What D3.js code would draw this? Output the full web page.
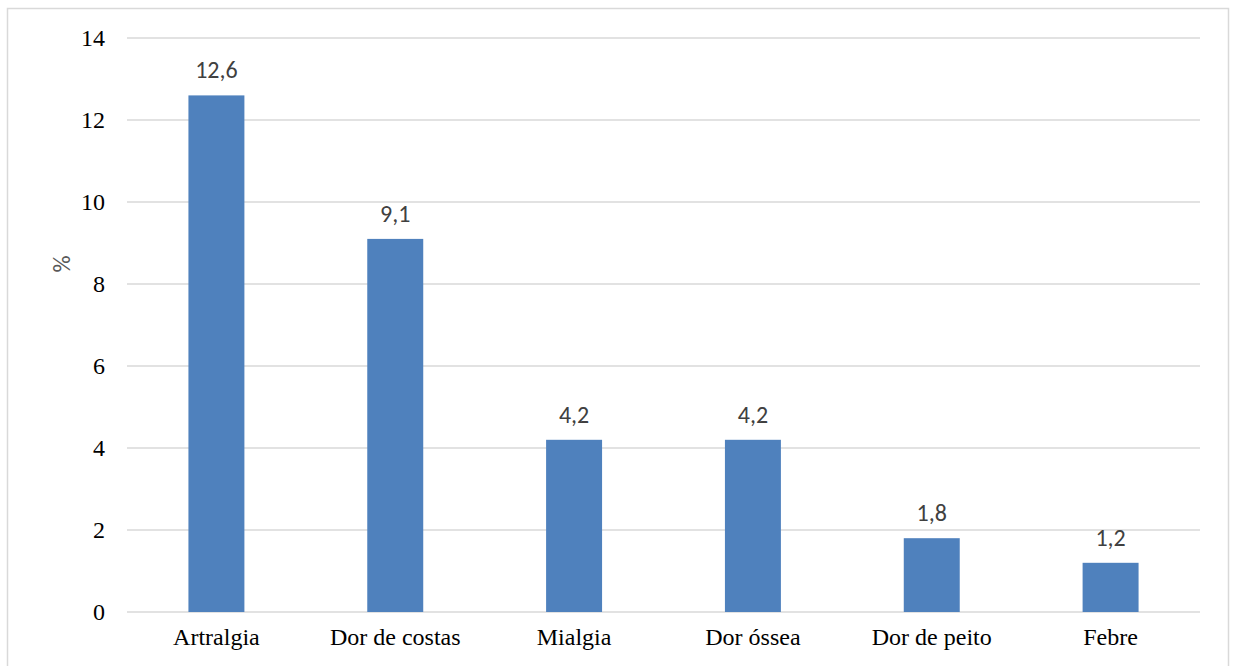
<!DOCTYPE html>
<html>
<head>
<meta charset="utf-8">
<script src="https://cdn.jsdelivr.net/npm/d3@7"></script>
<style>
  body { margin: 0; background: #fff; }
  svg { display: block; }
</style>
</head>
<body>
<svg id="chart" width="1235" height="666"></svg>
<script>
const categories = ['Artralgia', 'Dor de costas', 'Mialgia', 'Dor óssea', 'Dor de peito', 'Febre'];
const values = [12.6, 9.1, 4.2, 4.2, 1.8, 1.2];
const yTicks = [0, 2, 4, 6, 8, 10, 12, 14];

const svg = d3.select('#chart');
const margin = {top: 38, left: 127, right: 35, bottom: 54};
const width = 1235 - margin.left - margin.right;
const height = 666 - margin.top - margin.bottom;

// outer frame (bottom edge runs off the picture)
svg.append('rect')
    .attr('x', 7.5).attr('y', 8.5)
    .attr('width', 1221).attr('height', 680)
    .attr('fill', 'none')
    .attr('stroke', '#d9d9d9')
    .attr('stroke-width', 1.5);

const x = d3.scaleBand()
    .domain(categories)
    .range([0, width])
    .paddingInner(0.687)
    .paddingOuter(0.3435);

const y = d3.scaleLinear()
    .domain([0, 14])
    .range([height, 0]);

const g = svg.append('g')
    .attr('transform', `translate(${margin.left}, ${margin.top})`);

g.selectAll('.grid')
    .data(yTicks)
    .enter()
        .append('line')
            .attr('class', 'grid')
            .attr('x1', 0).attr('x2', width)
            .attr('y1', (d) => y(d)).attr('y2', (d) => y(d))
            .attr('stroke', '#d9d9d9')
            .attr('stroke-width', 1.3);

g.selectAll('.ytick')
    .data(yTicks)
    .enter()
        .append('text')
            .attr('class', 'ytick')
            .attr('x', -22)
            .attr('y', (d) => y(d))
            .attr('dy', '0.35em')
            .attr('text-anchor', 'end')
            .attr('font-family', '"Liberation Serif", "Times New Roman", serif')
            .attr('font-size', 24)
            .attr('fill', '#000')
            .text((d) => d);

g.selectAll('.bar')
    .data(values)
    .enter()
        .append('rect')
            .attr('class', 'bar')
            .attr('x', (d, i) => x(categories[i]))
            .attr('width', x.bandwidth())
            .attr('y', (d) => y(d))
            .attr('height', (d) => height - y(d))
            .attr('fill', '#4f81bd');

g.selectAll('.label')
    .data(values)
    .enter()
        .append('text')
            .attr('class', 'label')
            .attr('x', (d, i) => x(categories[i]) + x.bandwidth() / 2)
            .attr('y', (d) => y(d) - 17)
            .attr('text-anchor', 'middle')
            .attr('font-family', 'Carlito, "Open Sans", "Noto Sans", sans-serif')
            .attr('font-size', 24)
            .attr('fill', '#404040')
            .text((d) => String(d).replace('.', ','));

g.selectAll('.xtick')
    .data(categories)
    .enter()
        .append('text')
            .attr('class', 'xtick')
            .attr('x', (d) => x(d) + x.bandwidth() / 2)
            .attr('y', height + 33)
            .attr('text-anchor', 'middle')
            .attr('font-family', '"Liberation Serif", "Times New Roman", serif')
            .attr('font-size', 24)
            .attr('fill', '#000')
            .text((d) => d);

svg.append('text')
    .attr('transform', 'translate(70, 264) rotate(-90)')
    .attr('text-anchor', 'middle')
    .attr('font-family', 'Carlito, "Open Sans", "Noto Sans", sans-serif')
    .attr('font-size', 24)
    .attr('fill', '#595959')
    .text('%');
</script>
</body>
</html>
